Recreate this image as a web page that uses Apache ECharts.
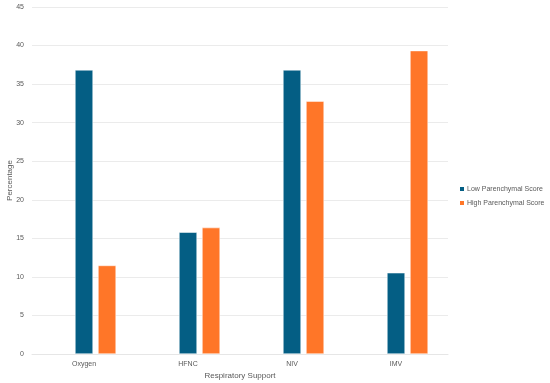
<!DOCTYPE html>
<html><head><meta charset="utf-8">
<script src="https://cdn.jsdelivr.net/npm/echarts@6/dist/echarts.min.js"></script>
<style>html,body{margin:0;padding:0;background:#fff}#c{width:550px;height:383px}</style>
</head><body><div id="c"></div>
<script>
const categories = ['Oxygen', 'HFNC', 'NIV', 'IMV'];
const lowScore = [36.84, 15.79, 36.84, 10.53];
const highScore = [11.48, 16.39, 32.79, 39.34];
const emptySlot = ['-', '-', '-', '-'];
const seriesNames = ['Low Parenchymal Score', 'High Parenchymal Score'];

const chart = echarts.init(document.getElementById('c'));
const font = '"Liberation Sans", Arial, sans-serif';
chart.setOption({
  animation: false,
  grid: { left: 32, right: 102, top: 7, bottom: 29, containLabel: false, outerBoundsMode: 'none' },
  legend: {
    orient: 'vertical', left: 453, top: 180,
    itemWidth: 6, itemHeight: 6, itemGap: 6,
    icon: 'rect',
    textStyle: { fontSize: 7, color: '#595959', fontFamily: font, padding: [0, 0, 0, -3] },
    data: seriesNames
  },
  xAxis: {
    type: 'category', data: categories,
    name: 'Respiratory Support', nameLocation: 'middle', nameGap: 17.5, nameMoveOverlap: false,
    nameTextStyle: { fontSize: 8, color: '#595959', fontFamily: font },
    axisLine: { lineStyle: { color: '#e6e6e6' } },
    axisTick: { show: false },
    axisLabel: { fontSize: 7, color: '#595959', fontFamily: font, margin: 7 }
  },
  yAxis: {
    type: 'value', min: 0, max: 45, interval: 5,
    name: 'Percentage', nameLocation: 'middle', nameGap: 18, nameMoveOverlap: false,
    nameTextStyle: { fontSize: 8, color: '#595959', fontFamily: font },
    axisLabel: { fontSize: 7, color: '#595959', fontFamily: font, margin: 8 },
    splitLine: { lineStyle: { color: '#ebebeb' } },
    axisLine: { show: false }, axisTick: { show: false }
  },
  series: [
    { name: 'empty', type: 'bar', data: emptySlot, barWidth: 18, barGap: '28%' },
    { name: seriesNames[0], type: 'bar', data: lowScore, barWidth: 18, barGap: '28%',
      itemStyle: { color: '#045e84', borderColor: '#ffffff', borderWidth: 0.5 } },
    { name: seriesNames[1], type: 'bar', data: highScore, barWidth: 18, barGap: '28%',
      itemStyle: { color: '#ff7628', borderColor: '#ffffff', borderWidth: 0.5 } }
  ]
});
</script></body></html>
